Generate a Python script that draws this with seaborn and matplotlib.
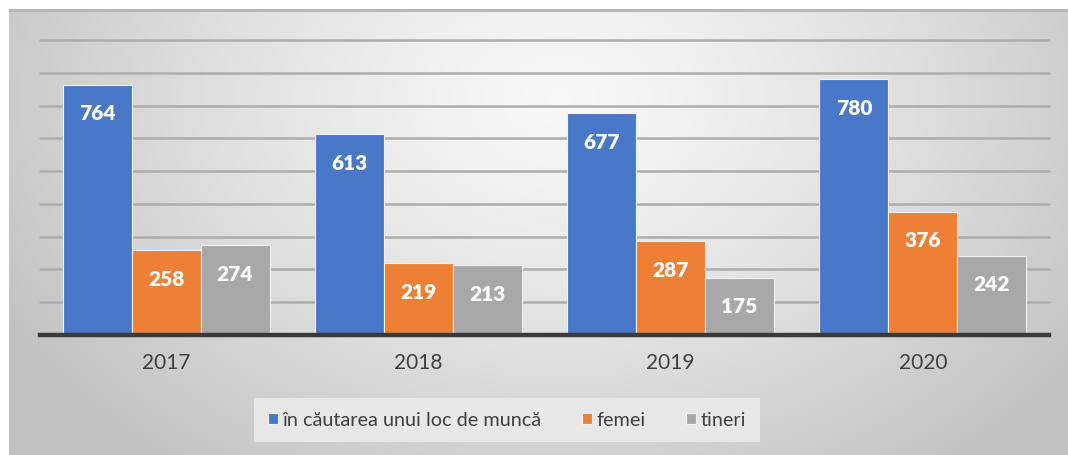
import numpy as np
import pandas as pd
import matplotlib
matplotlib.use("Agg")
import matplotlib.pyplot as plt
import seaborn as sns

years = ["2017", "2018", "2019", "2020"]
series_names = ["în căutarea unui loc de muncă", "femei", "tineri"]
cautare = [764, 613, 677, 780]
femei = [258, 219, 287, 376]
tineri = [274, 213, 175, 242]
colors = ["#4A78C8", "#ED8036", "#A8A8A8"]

df = pd.DataFrame({
    "an": years * 3,
    "serie": [series_names[0]] * 4 + [series_names[1]] * 4 + [series_names[2]] * 4,
    "valoare": cautare + femei + tineri,
})

sns.set_theme(style="white")
plt.rcParams["font.family"] = ["Lato", "DejaVu Sans"]

W, H = 1068, 455
fig = plt.figure(figsize=(W / 100, H / 100), dpi=100)
fig.patch.set_facecolor("white")

# background panel with radial gradient
bg = fig.add_axes([9 / W, 0, 1 - 9 / W, (H - 9) / H], zorder=-5)
ny, nx = 300, 700
X, Y = np.meshgrid(np.linspace(0, 1, nx), np.linspace(1, 0, ny))
r = np.sqrt(((X - 0.52) / 0.6) ** 2 + ((Y - 0.8) / 1.05) ** 2)
r = np.clip(r, 0, 1) ** 1.3
light, dark = 0.97, 0.76
img = light + (dark - light) * r
bg.imshow(np.dstack([img, img, img]), extent=[0, 1, 0, 1], aspect="auto", interpolation="bilinear")
bg.plot([0, 1], [0.997, 0.997], color="#b5b5b5", lw=2, transform=bg.transAxes)
bg.set_axis_off()

ax = fig.add_axes([40 / W, (H - 335) / H, 1009 / W, 295 / H])
ax.set_facecolor("none")
sns.barplot(data=df, x="an", y="valoare", hue="serie", palette=colors,
            width=0.82, saturation=1, ax=ax, edgecolor="#f2f2f2", linewidth=0.8,
            zorder=3)

for cont in ax.containers:
    for p in cont:
        h = p.get_height()
        ax.annotate(f"{int(round(h))}", (p.get_x() + p.get_width() / 2, h),
                    xytext=(0, -21), textcoords="offset points",
                    ha="center", va="center", color="white",
                    fontsize=15, fontweight="heavy", zorder=5)

ax.set_ylim(0, 900)
ax.set_yticks(range(100, 901, 100))
ax.yaxis.grid(True, color="#adadad", lw=1.8, zorder=0)
for gl in ax.get_ygridlines():
    gl.set_clip_on(False)
ax.set_axisbelow(True)
ax.set_yticklabels([])
ax.tick_params(axis="y", length=0)
ax.tick_params(axis="x", length=0, pad=13, labelsize=15, labelcolor="#404040")
ax.set_xlabel("")
ax.set_ylabel("")
for s in ["left", "right", "top"]:
    ax.spines[s].set_visible(False)
ax.spines["bottom"].set_color("#3a3a3a")
ax.spines["bottom"].set_linewidth(3.2)
ax.spines["bottom"].set_zorder(6)

handles, labels = ax.get_legend_handles_labels()
ax.get_legend().remove()
leg = fig.legend(handles, labels, loc="center", bbox_to_anchor=(507 / W, (H - 420) / H),
                 ncol=3, frameon=True, fontsize=14.3, handlelength=0.5, handleheight=0.5,
                 handletextpad=0.25, columnspacing=2.0, borderpad=0.7, fancybox=False)
leg.get_frame().set_facecolor("#ececec")
leg.get_frame().set_edgecolor("none")
leg.get_frame().set_alpha(0.85)
for t in leg.get_texts():
    t.set_color("#404040")

fig.savefig("out.png", dpi=100)
